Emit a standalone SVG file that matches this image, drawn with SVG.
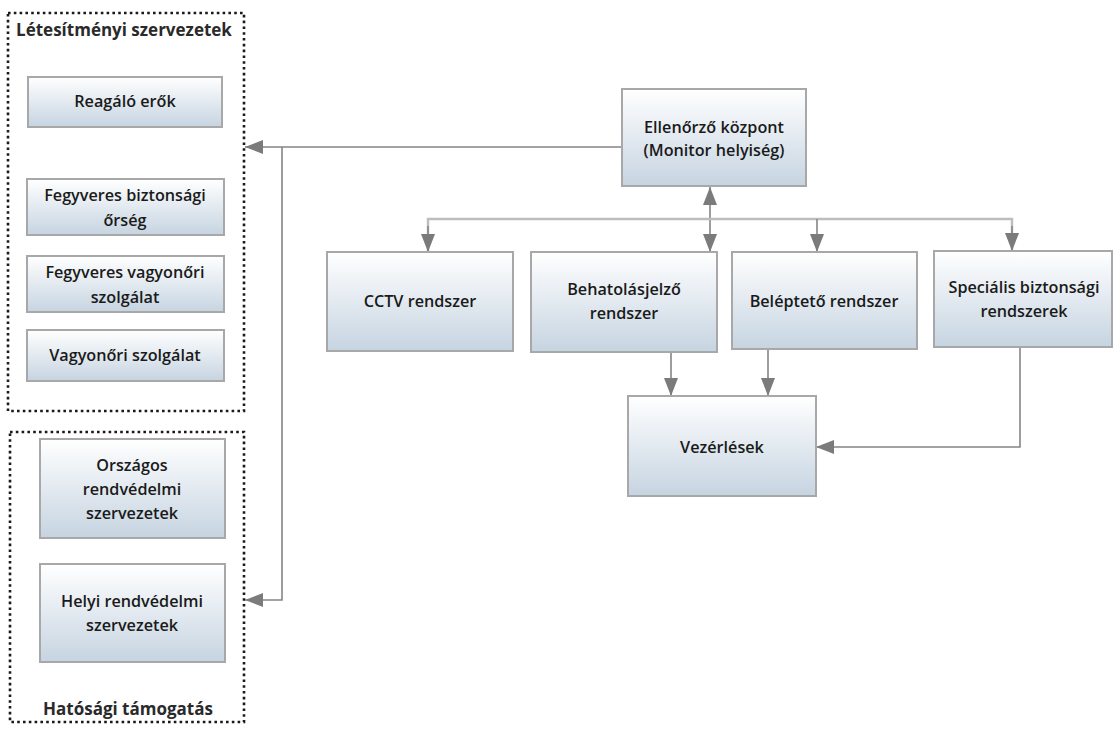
<svg xmlns="http://www.w3.org/2000/svg" width="1114" height="733" viewBox="0 0 1114 733">
  <defs>
    <linearGradient id="boxFill" x1="0" y1="0" x2="0" y2="1">
      <stop offset="0" stop-color="#ffffff"/>
      <stop offset="1" stop-color="#c6d4e1"/>
    </linearGradient>
    <marker id="ah" markerUnits="userSpaceOnUse" markerWidth="18" markerHeight="14" refX="18" refY="7" orient="auto-start-reverse">
      <path d="M0,0 L18,7 L0,14 z" fill="#7b7b7b"/>
    </marker>
    <style>
      .box { fill: url(#boxFill); stroke: #a8a8a8; stroke-width: 2; }
      .lbl { font-family: "Open Sans", "Liberation Sans", sans-serif; font-weight: 600; font-size: 16.2px; fill: #1a1a1a; text-anchor: middle; dominant-baseline: central; }
      .grp { fill: none; stroke: #1a1a1a; stroke-width: 2.6; stroke-dasharray: 2.6 3.2; }
      .grpTitle { font-family: "Open Sans", "Liberation Sans", sans-serif; font-weight: 700; font-size: 17px; fill: #2a2a2a; text-anchor: middle; dominant-baseline: central; }
      .con { fill: none; stroke: #858585; stroke-width: 1.6; }
      .bus { fill: none; stroke: #bdbdbd; stroke-width: 2.4; }
    </style>
  </defs>

  <rect width="1114" height="733" fill="#ffffff"/>

  <!-- Facility organisations frame -->
  <g id="letesitmenyi-szervezetek">
    <rect class="grp" x="8" y="13" width="236" height="398"/>
    <text class="grpTitle" x="124" y="29">Létesítményi szervezetek</text>
  </g>

  <!-- Authority support frame -->
  <g id="hatosagi-tamogatas">
    <rect class="grp" x="10" y="432" width="234" height="290"/>
    <text class="grpTitle" x="128" y="708">Hatósági támogatás</text>
  </g>

  <!-- Connectors -->
  <g id="connectors">
    <!-- control room to the organisations -->
    <path class="con" d="M622,147 H245" marker-end="url(#ah)"/>
    <path class="con" d="M282,147 V600 H245" marker-end="url(#ah)"/>
    <!-- control room to the distribution bus (two-way) -->
    <path class="con" d="M710,187 V252" marker-start="url(#ah)" marker-end="url(#ah)"/>
    <!-- distribution bus -->
    <path class="bus" d="M428,251 V219 H1012 V251"/>
    <path class="con" d="M428,226 V252" marker-end="url(#ah)"/>
    <path class="con" d="M817,219 V252" marker-end="url(#ah)"/>
    <path class="con" d="M1012,226 V251" marker-end="url(#ah)"/>
    <!-- systems to controls -->
    <path class="con" d="M671,352 V396" marker-end="url(#ah)"/>
    <path class="con" d="M768,349 V396" marker-end="url(#ah)"/>
    <path class="con" d="M1020,347 V447 H816" marker-end="url(#ah)"/>
  </g>

  <g id="reagalo-erok">
    <rect class="box" x="28" y="77" width="194" height="50"/>
    <text class="lbl" x="125" y="101">Reagáló erők</text>
  </g>

  <g id="fegyveres-biztonsagi-orseg">
    <rect class="box" x="27" y="179" width="197" height="56"/>
    <text class="lbl" x="125" y="195">Fegyveres biztonsági</text>
    <text class="lbl" x="125" y="220">őrség</text>
  </g>

  <g id="fegyveres-vagyonori-szolgalat">
    <rect class="box" x="27" y="256" width="197" height="56"/>
    <text class="lbl" x="125" y="272">Fegyveres vagyonőri</text>
    <text class="lbl" x="125" y="297">szolgálat</text>
  </g>

  <g id="vagyonori-szolgalat">
    <rect class="box" x="27" y="330" width="197" height="51"/>
    <text class="lbl" x="125" y="355">Vagyonőri szolgálat</text>
  </g>

  <g id="orszagos-rendvedelmi">
    <rect class="box" x="40" y="439" width="185" height="99"/>
    <text class="lbl" x="132" y="465">Országos</text>
    <text class="lbl" x="132" y="489">rendvédelmi</text>
    <text class="lbl" x="132" y="513">szervezetek</text>
  </g>

  <g id="helyi-rendvedelmi">
    <rect class="box" x="40" y="564" width="185" height="98"/>
    <text class="lbl" x="132" y="601">Helyi rendvédelmi</text>
    <text class="lbl" x="132" y="625">szervezetek</text>
  </g>

  <g id="ellenorzo-kozpont">
    <rect class="box" x="622" y="89" width="184" height="97"/>
    <text class="lbl" x="714" y="127">Ellenőrző központ</text>
    <text class="lbl" x="714" y="150">(Monitor helyiség)</text>
  </g>

  <g id="cctv-rendszer">
    <rect class="box" x="327" y="252" width="186" height="99"/>
    <text class="lbl" x="420" y="301">CCTV rendszer</text>
  </g>

  <g id="behatolasjelzo-rendszer">
    <rect class="box" x="531" y="252" width="186" height="100"/>
    <text class="lbl" x="624" y="289">Behatolásjelző</text>
    <text class="lbl" x="624" y="313">rendszer</text>
  </g>

  <g id="beleptetp-rendszer">
    <rect class="box" x="732" y="252" width="185" height="97"/>
    <text class="lbl" x="824" y="301">Beléptető rendszer</text>
  </g>

  <g id="specialis-biztonsagi-rendszerek">
    <rect class="box" x="934" y="251" width="178" height="96"/>
    <text class="lbl" x="1024" y="287">Speciális biztonsági</text>
    <text class="lbl" x="1024" y="311">rendszerek</text>
  </g>

  <g id="vezerlesek">
    <rect class="box" x="628" y="396" width="188" height="100"/>
    <text class="lbl" x="722" y="447">Vezérlések</text>
  </g>
</svg>
